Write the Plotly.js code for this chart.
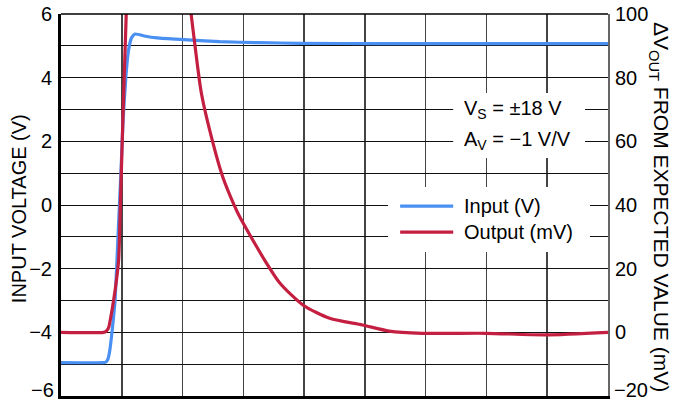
<!DOCTYPE html>
<html>
<head>
<meta charset="utf-8">
<script src="https://cdn.plot.ly/plotly-3.0.1.min.js"></script>
<style>html,body{margin:0;padding:0;background:#fff;}#chart{width:674px;height:402px;}</style>
</head>
<body>
<div id="chart"></div>
<script>
// Time in grid divisions (x axis has no labels)
var inputTime = [0, 0.70, 0.74, 0.77, 0.80, 0.83, 0.86, 0.89, 0.94, 0.99, 1.02, 1.07, 1.11, 1.16, 1.22, 1.39, 1.58, 1.96, 2.61, 3.27, 3.93, 5.24, 6.39, 9.0];
var inputVolts = [-4.95, -4.95, -4.93, -4.85, -4.6, -4.15, -3.6, -3.0, -0.9, 1.2, 2.6, 4.1, 4.85, 5.25, 5.37, 5.3, 5.25, 5.2, 5.13, 5.1, 5.08, 5.07, 5.07, 5.07];

var outputTime = [0, 0.70, 0.74, 0.78, 0.82, 0.866, 0.91, 0.948, 0.98, 1.013, 1.045, 1.074, 1.09, null, 2.10, 2.14, 2.20, 2.31, 2.50, 2.66, 2.86, 2.94, 3.11, 3.35, 3.60, 3.98, 4.42, 4.96, 5.40, 5.94, 6.99, 7.97, 9.0];
var outputMV = [0, 0, 0.3, 1.3, 4.9, 10.1, 16, 22.7, 42, 63.6, 83, 100.5, 112, null, 108, 100.2, 90.8, 75.1, 59.5, 48.9, 39.5, 36.3, 30.5, 22.7, 15.5, 8.6, 4.4, 2.3, 0.4, -0.3, -0.3, -0.8, 0.0];

var leftTickVals = [-6, -5, -4, -3, -2, -1, 0, 1, 2, 3, 4, 5, 6];
var leftTickText = ['\u22126', '', '\u22124', '', '\u22122', '', '0', '', '2', '', '4', '', '6'];
var rightTickVals = [-20, 0, 20, 40, 60, 80, 100];
var rightTickText = ['\u221220', '0', '20', '40', '60', '80', '100'];
var seriesNames = ['Input (V)', 'Output (mV)'];
var noteLines = ['V<sub>S</sub> = \u00b118 V', 'A<sub>V</sub> = \u22121 V/V'];

var FONT = 'Liberation Sans, Arial, Helvetica, sans-serif';
var BLUE = '#4a8ff2';
var RED = '#c41f41';

// bottom-most tick labels are lifted slightly (as in the reference) so they stay inside the picture
var leftAxisText = leftTickText.map(function (t, i) { return i === 0 ? '' : t; });
var rightAxisText = rightTickText.map(function (t, i) { return i === 0 ? '' : t; });

var traces = [
  {x: inputTime, y: inputVolts, type: 'scatter', mode: 'lines', name: seriesNames[0],
   line: {color: BLUE, width: 3.2, shape: 'spline', smoothing: 0.5}, yaxis: 'y', showlegend: false},
  {x: outputTime, y: outputMV, type: 'scatter', mode: 'lines', name: seriesNames[1],
   line: {color: RED, width: 3.2, shape: 'spline', smoothing: 0.7}, yaxis: 'y2', connectgaps: false, showlegend: false}
];

var txt = {family: FONT, size: 20, color: '#000'};

var layout = {
  width: 674, height: 402,
  margin: {l: 61, r: 66, t: 14, b: 6, pad: 0},
  paper_bgcolor: '#fff', plot_bgcolor: '#fff',
  font: txt,
  showlegend: false,
  xaxis: {
    range: [0, 9], dtick: 1, tick0: 0, showticklabels: false, ticks: '',
    showgrid: true, gridcolor: '#444', gridwidth: 1.5, zeroline: false,
    showline: true, linecolor: '#000', linewidth: 3, mirror: false, fixedrange: true
  },
  yaxis: {
    range: [-6, 6], tickmode: 'array', tickvals: leftTickVals, ticktext: leftAxisText,
    ticks: '', ticklabelstandoff: 2, ticklabeloverflow: 'allow', tickfont: txt,
    showgrid: true, gridcolor: '#111', gridwidth: 1, zeroline: false,
    showline: true, linecolor: '#000', linewidth: 3, mirror: false
  },
  yaxis2: {
    range: [-20, 100], overlaying: 'y', side: 'right', tickmode: 'array',
    tickvals: rightTickVals, ticktext: rightAxisText, ticks: '', ticklabelstandoff: 1,
    ticklabeloverflow: 'allow', tickfont: txt,
    showgrid: false, zeroline: false, showline: true, linecolor: '#666', linewidth: 2
  },
  shapes: [
    {type: 'line', xref: 'paper', yref: 'paper', x0: 0, x1: 1, y0: 1, y1: 1, line: {color: '#000', width: 1.5}, layer: 'above'},
    {type: 'rect', xref: 'paper', yref: 'paper', x0: 0.717, x1: 0.958, y0: 0.623, y1: 0.793, fillcolor: '#fff', line: {width: 0}, layer: 'above'},
    {type: 'rect', xref: 'paper', yref: 'paper', x0: 0.598, x1: 0.967, y0: 0.377, y1: 0.547, fillcolor: '#fff', line: {width: 0}, layer: 'above'},
    {type: 'line', xref: 'paper', yref: 'paper', x0: 0.620, x1: 0.717, y0: 0.497, y1: 0.497, line: {color: BLUE, width: 3.2}, layer: 'above'},
    {type: 'line', xref: 'paper', yref: 'paper', x0: 0.620, x1: 0.717, y0: 0.429, y1: 0.429, line: {color: RED, width: 3.2}, layer: 'above'}
  ],
  annotations: [
    {text: leftTickText[0], xref: 'paper', yref: 'y', x: 0, y: leftTickVals[0], xanchor: 'right', yanchor: 'middle', xshift: -5, yshift: 6, showarrow: false, font: txt},
    {text: rightTickText[0], xref: 'paper', yref: 'y2', x: 1, y: rightTickVals[0], xanchor: 'left', yanchor: 'middle', xshift: 4, yshift: 6, showarrow: false, font: txt},
    {text: seriesNames[0], xref: 'paper', yref: 'paper', x: 0.733, y: 0.497, xanchor: 'left', yanchor: 'middle', showarrow: false, font: txt},
    {text: seriesNames[1], xref: 'paper', yref: 'paper', x: 0.733, y: 0.429, xanchor: 'left', yanchor: 'middle', showarrow: false, font: txt},
    {text: noteLines[0], xref: 'paper', yref: 'paper', x: 0.733, y: 0.751, xanchor: 'left', yanchor: 'middle', showarrow: false, font: txt},
    {text: noteLines[1], xref: 'paper', yref: 'paper', x: 0.733, y: 0.668, xanchor: 'left', yanchor: 'middle', showarrow: false, font: txt},
    {text: 'INPUT VOLTAGE (V)', xref: 'paper', yref: 'paper', x: -0.078, y: 0.49, xanchor: 'center', yanchor: 'middle', textangle: -90, showarrow: false, font: txt},
    {text: '\u0394V<sub>OUT</sub> FROM EXPECTED VALUE (mV)', xref: 'paper', yref: 'paper', x: 1.095, y: 0.495, xanchor: 'center', yanchor: 'middle', textangle: 90, showarrow: false, font: {family: FONT, size: 21, color: '#000'}}
  ]
};

Plotly.newPlot('chart', traces, layout, {staticPlot: true, displayModeBar: false});
</script>
</body>
</html>
